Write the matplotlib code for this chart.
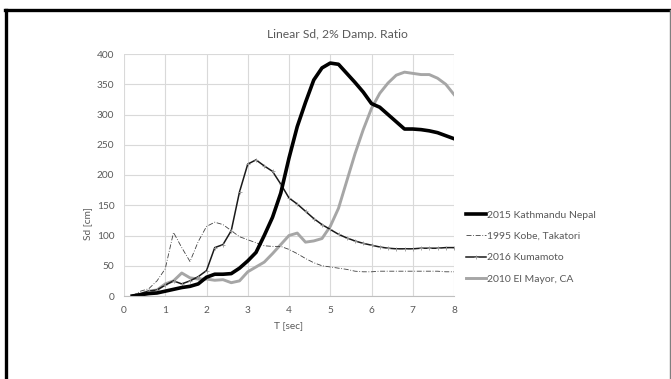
import matplotlib
matplotlib.use("Agg")
import matplotlib.pyplot as plt
from matplotlib.lines import Line2D

plt.rcParams['font.family'] = ['Lato', 'DejaVu Sans']

period = [0.2, 0.4, 0.6, 0.8, 1.0, 1.2, 1.4, 1.6, 1.8, 2.0,
          2.2, 2.4, 2.6, 2.8, 3.0, 3.2, 3.4, 3.6, 3.8, 4.0,
          4.2, 4.4, 4.6, 4.8, 5.0, 5.2, 5.4, 5.6, 5.8, 6.0,
          6.2, 6.4, 6.6, 6.8, 7.0, 7.2, 7.4, 7.6, 7.8, 8.0]

kathmandu = [0, 2, 4, 5, 8, 11, 14, 16, 20, 31,
             36, 36, 37, 46, 58, 72, 100, 130, 170, 228,
             280, 320, 357, 377, 385, 383, 368, 353, 337, 318,
             312, 300, 288, 276, 276, 275, 273, 270, 265, 260]

kobe = [0, 8, 12, 25, 45, 105, 80, 57, 90, 115,
        122, 118, 108, 98, 93, 88, 83, 82, 82, 77,
        70, 62, 55, 50, 48, 46, 44, 41, 40, 40,
        41, 41, 41, 41, 41, 41, 41, 41, 40, 40]

kumamoto = [0, 4, 8, 10, 18, 25, 20, 25, 32, 42,
            80, 85, 108, 172, 218, 225, 215, 206, 185, 162,
            152, 140, 128, 118, 110, 102, 96, 91, 87, 84,
            81, 79, 78, 78, 78, 79, 79, 79, 80, 80]

el_mayor = [0, 3, 8, 10, 20, 25, 38, 30, 28, 28,
            26, 27, 22, 25, 40, 48, 56, 70, 85, 100,
            104, 89, 91, 95, 115, 145, 190, 235, 275, 310,
            335, 352, 365, 370, 368, 366, 366, 360, 350, 333]

series_names = ["2015 Kathmandu Nepal", "1995 Kobe, Takatori",
                "2016 Kumamoto", "2010 El Mayor, CA"]

W, H = 671, 379
fig = plt.figure(figsize=(W / 100, H / 100), dpi=100)

# outer frame of the chart object: dark left/top edges, light right edge
def fx(px):
    return px / W

def fy(py):
    return 1 - py / H

fig.add_artist(Line2D([fx(5.5), fx(5.5)], [fy(9.5), -0.02],
                      transform=fig.transFigure, color='black', lw=2.4))
fig.add_artist(Line2D([fx(4.5), fx(669)], [fy(9.5), fy(9.5)],
                      transform=fig.transFigure, color='black', lw=2.4))
fig.add_artist(Line2D([fx(669.5), fx(669.5)], [fy(9.5), -0.02],
                      transform=fig.transFigure, color='#7f7f7f', lw=1.0))

ax = fig.add_axes([124 / W, 1 - 296 / H, 330 / W, 242 / H])

ax.plot(period, el_mayor, color='#A6A6A6', lw=2.1, solid_joinstyle='round')
ax.plot(period, kobe, color='#404040', lw=0.6, ls=(0, (6, 2, 1, 2)))
ax.plot(period, kumamoto, color='#1a1a1a', lw=1.1,
        marker='+', ms=3.5, mec='#9a9a9a', mew=0.6)
ax.plot(period, kathmandu, color='black', lw=2.6, solid_joinstyle='round')

ax.set_xlim(0, 8)
ax.set_ylim(0, 400)
ax.set_xticks(range(0, 9))
ax.set_yticks(range(0, 401, 50))
ax.grid(True, color='#D9D9D9', lw=0.8)
ax.set_axisbelow(True)
for side in ['top', 'right', 'left']:
    ax.spines[side].set_visible(False)
ax.spines['bottom'].set_color('#BFBFBF')
ax.tick_params(length=0, labelsize=7.3, colors='#595959', pad=7)
ax.tick_params(axis='y', pad=7)

fig.text(337 / W, 1 - 35 / H, "Linear Sd, 2% Damp. Ratio", ha='center',
         va='center', fontsize=8.7, color='#595959')
fig.text(289 / W, 1 - 326 / H, "T [sec]", ha='center', va='center',
         fontsize=7.3, color='#595959')
fig.text(88 / W, 1 - 224 / H, "Sd [cm]", ha='center', va='center',
         rotation=90, fontsize=7.3, color='#595959')

handles = [
    Line2D([], [], color='black', lw=2.6),
    Line2D([], [], color='#404040', lw=0.6, ls=(0, (6, 2, 1, 2))),
    Line2D([], [], color='#1a1a1a', lw=1.1, marker='+', ms=3.5,
           mec='#9a9a9a', mew=0.6),
    Line2D([], [], color='#A6A6A6', lw=2.1),
]
fig.legend(handles, series_names, loc='center left',
           bbox_to_anchor=(462 / W, 1 - 247 / H), frameon=False,
           fontsize=7.5, labelcolor='#595959', handlelength=1.9,
           handletextpad=0.1, labelspacing=1.15, borderaxespad=0)

fig.savefig("out.png", dpi=100, facecolor='white')
